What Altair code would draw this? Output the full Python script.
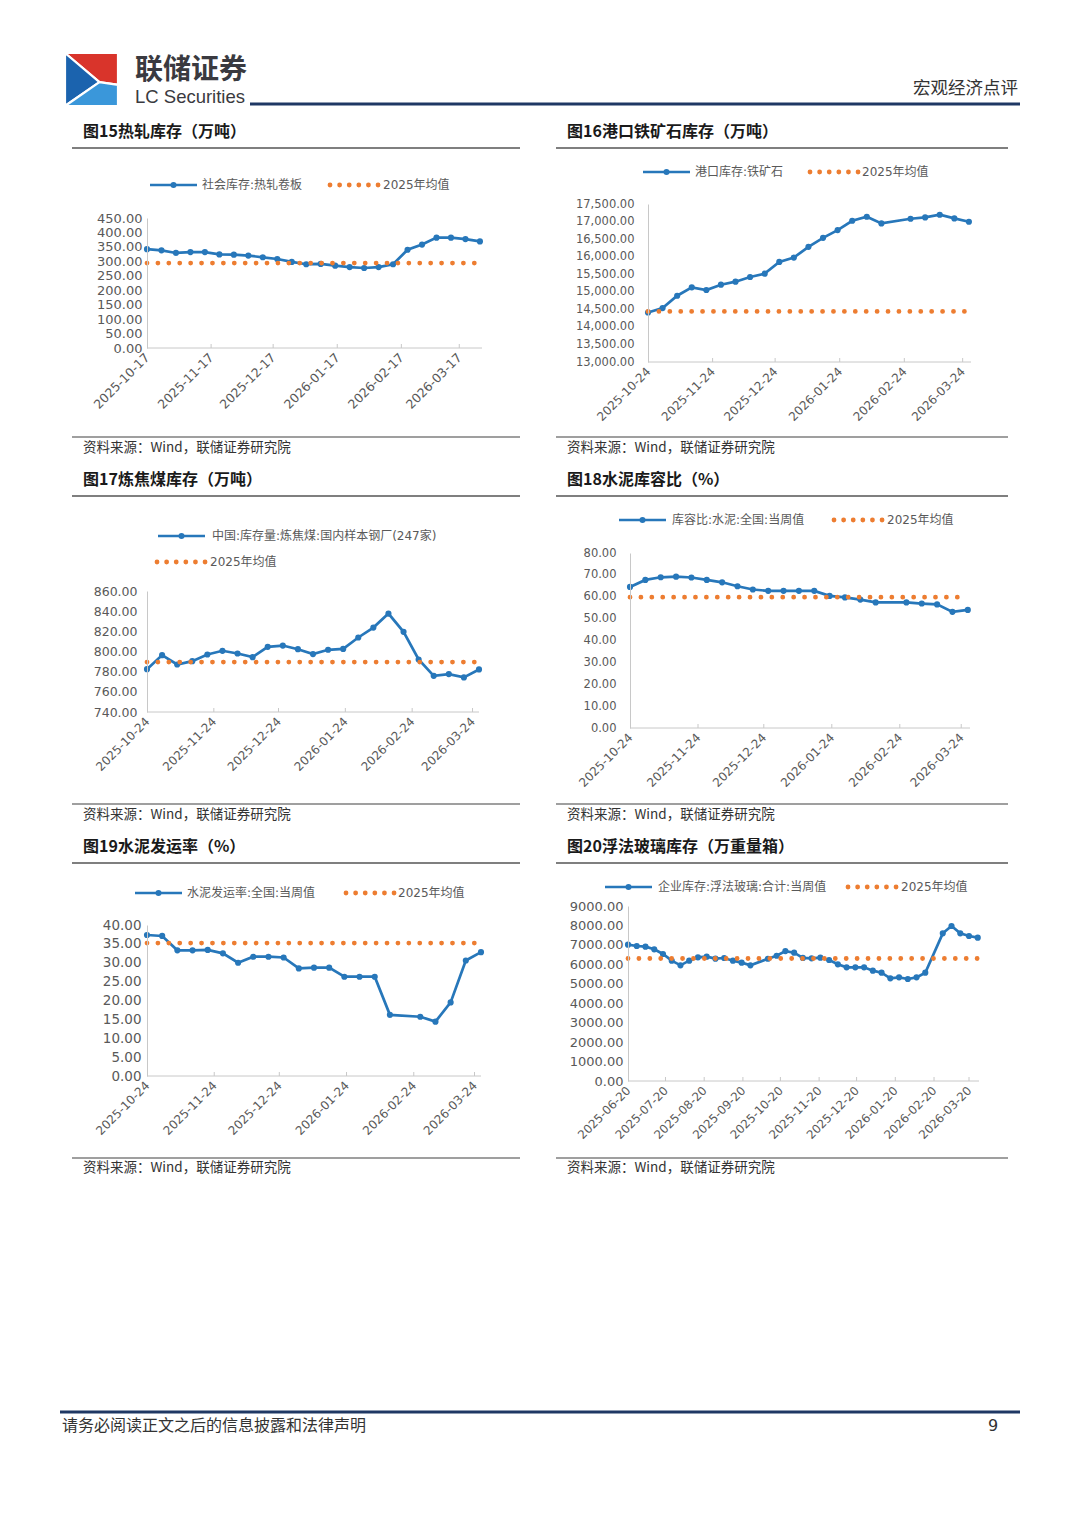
import altair as alt
import pandas as pd

# ---------------- data ----------------
p15_dates = ["2025-10-17", "2025-10-24", "2025-10-31", "2025-11-07", "2025-11-14", "2025-11-21",
             "2025-11-28", "2025-12-05", "2025-12-12", "2025-12-19", "2025-12-26", "2026-01-02",
             "2026-01-09", "2026-01-16", "2026-01-23", "2026-01-30", "2026-02-06", "2026-02-13",
             "2026-02-20", "2026-02-27", "2026-03-06", "2026-03-13", "2026-03-20", "2026-03-27"]
p15_vals = [342, 338, 329, 332, 332, 324, 323, 320, 314, 308, 298, 290,
            291, 285, 280, 277, 280, 290, 340, 358, 382, 382, 377, 369]
p15_avg = 294
p15_xticks = ["2025-10-17", "2025-11-17", "2025-12-17", "2026-01-17", "2026-02-17", "2026-03-17"]
p15_yticks = [0, 50, 100, 150, 200, 250, 300, 350, 400, 450]

gap_dates = ["2025-10-24", "2025-10-31", "2025-11-07", "2025-11-14", "2025-11-21", "2025-11-28",
             "2025-12-05", "2025-12-12", "2025-12-19", "2025-12-26", "2026-01-02", "2026-01-09",
             "2026-01-16", "2026-01-23", "2026-01-30", "2026-02-06", "2026-02-13", "2026-02-27",
             "2026-03-06", "2026-03-13", "2026-03-20", "2026-03-27"]
full_dates = ["2025-10-24", "2025-10-31", "2025-11-07", "2025-11-14", "2025-11-21", "2025-11-28",
              "2025-12-05", "2025-12-12", "2025-12-19", "2025-12-26", "2026-01-02", "2026-01-09",
              "2026-01-16", "2026-01-23", "2026-01-30", "2026-02-06", "2026-02-13", "2026-02-20",
              "2026-02-27", "2026-03-06", "2026-03-13", "2026-03-20", "2026-03-27"]
ticks24 = ["2025-10-24", "2025-11-24", "2025-12-24", "2026-01-24", "2026-02-24", "2026-03-24"]

p16_vals = [14411, 14535, 14888, 15126, 15050, 15202, 15288, 15422, 15517, 15851, 15975,
            16280, 16537, 16756, 17023, 17138, 16947, 17080, 17119, 17195, 17090, 16995]
p16_avg = 14440
p16_yticks = [13000, 13500, 14000, 14500, 15000, 15500, 16000, 16500, 17000, 17500]

p17_vals = [782.5, 796.4, 787.1, 790.4, 797.0, 800.7, 798.0, 794.4, 804.6, 805.9, 802.3, 797.4,
            801.7, 802.6, 813.9, 823.7, 837.6, 819.5, 792.1, 775.9, 777.6, 774.3, 782.2]
p17_avg = 789.5
p17_yticks = [740, 760, 780, 800, 820, 840, 860]

p18_vals = [64.5, 67.7, 68.9, 69.2, 68.8, 67.7, 66.6, 64.8, 63.3, 62.7, 62.7,
            62.7, 62.7, 60.4, 59.7, 58.7, 57.4, 57.4, 56.9, 56.5, 53.1, 54.0]
p18_avg = 59.8
p18_yticks = [0, 10, 20, 30, 40, 50, 60, 70, 80]

p19_vals = [37.35, 37.1, 33.3, 33.3, 33.4, 32.5, 30.0, 31.6, 31.6, 31.4, 28.5,
            28.7, 28.7, 26.3, 26.3, 26.3, 16.2, 15.7, 14.4, 19.5, 30.6, 32.8]
p19_avg = 35.2
p19_yticks = [0, 5, 10, 15, 20, 25, 30, 35, 40]

p20_dates = ["2025-06-20", "2025-06-27", "2025-07-04", "2025-07-11", "2025-07-18", "2025-07-25",
             "2025-08-01", "2025-08-08", "2025-08-15", "2025-08-22", "2025-08-29", "2025-09-05",
             "2025-09-12", "2025-09-19", "2025-09-26", "2025-10-10", "2025-10-17", "2025-10-24",
             "2025-10-31", "2025-11-07", "2025-11-14", "2025-11-21", "2025-11-28", "2025-12-05",
             "2025-12-12", "2025-12-19", "2025-12-26", "2026-01-02", "2026-01-09", "2026-01-16",
             "2026-01-23", "2026-01-30", "2026-02-06", "2026-02-13", "2026-02-27", "2026-03-06",
             "2026-03-13", "2026-03-20", "2026-03-27"]
p20_vals = [7010, 6943, 6909, 6772, 6531, 6188, 5948, 6188, 6360, 6394, 6291, 6326, 6188,
            6086, 5948, 6286, 6440, 6680, 6600, 6330, 6308, 6343, 6223, 6000, 5846, 5846,
            5846, 5674, 5571, 5280, 5331, 5246, 5331, 5571, 7594, 7971, 7594, 7457, 7371]
p20_avg = 6300
p20_xticks = ["2025-06-20", "2025-07-20", "2025-08-20", "2025-09-20", "2025-10-20",
              "2025-11-20", "2025-12-20", "2026-01-20", "2026-02-20", "2026-03-20"]
p20_yticks = [0, 1000, 2000, 3000, 4000, 5000, 6000, 7000, 8000, 9000]

avg_label = "2025年均值"
source_label = "资料来源：Wind，联储证券研究院"

# ---------------- style ----------------
BLUE = "#2777BA"
ORANGE = "#ED7D31"
LBL = "#595959"
AXIS_GRAY = "#C8C8C8"
NAVY = "#1F3864"
LINE_GRAY = "#7F7F7F"
NUMFONT = "DejaVu Sans"
CJK = "Noto Sans CJK SC"
MIX = "DejaVu Sans, Noto Sans CJK SC"


def ms(d):
    return int(pd.Timestamp(d).value // 10**6)


def one():
    return pd.DataFrame({"k": [0]})


def txt(s, x, y, size, color="#333333", weight="normal", align="left", font=CJK):
    return alt.Chart(pd.DataFrame({"t": [s]})).mark_text(
        align=align, baseline="middle", fontSize=size, font=font,
        fontWeight=weight, color=color
    ).encode(x=alt.value(x), y=alt.value(y), text="t:N")


def box(x0, x1, y0, y1, color):
    return alt.Chart(one()).mark_rect(color=color, opacity=1).encode(
        x=alt.value(x0), x2=alt.value(x1), y=alt.value(y0), y2=alt.value(y1))


def dots(x0, x1, y, gap=9.6):
    return alt.Chart(one()).mark_rule(
        color=ORANGE, strokeWidth=4.8, strokeDash=[0.01, gap], strokeCap="round"
    ).encode(x=alt.value(x0), x2=alt.value(x1 + 1.5), y=alt.value(y))


def line_key(x0, x1, y):
    r = alt.Chart(one()).mark_rule(color=BLUE, strokeWidth=2.6).encode(
        x=alt.value(x0), x2=alt.value(x1), y=alt.value(y))
    p = alt.Chart(one()).mark_circle(color=BLUE, size=36, opacity=1).encode(
        x=alt.value((x0 + x1) / 2), y=alt.value(y))
    return [r, p]


def panel(p):
    w, h, shift = p["w"], p["h"], p["shift"]
    d0, d1 = ms(p["x0"]), ms(p["x1"])
    per_px = (d1 - d0) / (w - shift)
    dom = [d0 - shift * per_px, d1]
    xscale = alt.Scale(type="utc", domain=dom, nice=False)
    xaxis = alt.Axis(values=[ms(t) for t in p["xticks"]], format="%Y-%m-%d", labelAngle=-45,
                     labelAlign="right", labelBaseline="middle", labelPadding=p["xpad"],
                     ticks=False, domain=False, grid=False, labelFont=NUMFONT,
                     labelFontSize=p["xfs"], labelColor=LBL, labelOverlap=False,
                     labelFlush=False, labelBound=False, title=None, zindex=1)
    yscale = alt.Scale(domain=p["ydom"], nice=False, zero=False)
    yaxis = alt.Axis(values=p["yticks"], format=p["yfmt"], ticks=False, grid=False,
                     domainColor=AXIS_GRAY, domainWidth=1, labelFont=NUMFONT,
                     labelFontSize=p["yfs"], labelColor=LBL, labelPadding=p["ypad"],
                     offset=-shift, title=None, zindex=1, labelFlush=False)
    X = alt.X("date:T", scale=xscale, axis=xaxis)

    def Y(f):
        return alt.Y(f + ":Q", scale=yscale, axis=yaxis)

    df = pd.DataFrame({"date": p["dates"], "v": p["vals"], "avg": [p["avg"]] * len(p["dates"])})
    df_ax = pd.DataFrame({"date": [p["x0"]], "date2": [p["x1"]]})
    df_tk = pd.DataFrame({"date": p["xticks"][1:]})

    bx0, bx1, by0, by1 = p["rect"]
    layers = [box(bx0, bx1, by0, by1, "white")]
    ux0, ux1 = p["ux"]
    layers.append(txt(p["title"], p["tx"], p["ty"], 16, "#1A1A1A", "bold"))
    layers.append(box(ux0, ux1, p["uy"] - 1, p["uy"] + 1, LINE_GRAY))
    layers.append(box(ux0, ux1, p["by"] - 0.8, p["by"] + 0.8, LINE_GRAY))
    layers.append(txt(source_label, p["tx"], p["sy"], 13.5, "#333333"))
    lx0, lx1, ly = p["leg_line"]
    layers += line_key(lx0, lx1, ly)
    layers.append(txt(p["leg_text"], p["leg_tx"], ly, 12, LBL, font=MIX))
    dx0, dx1, dy = p["leg_dots"]
    layers.append(dots(dx0, dx1, dy))
    layers.append(txt(avg_label, p["leg_dtx"], dy, 12, LBL, font=MIX))
    layers.append(alt.Chart(df_ax).mark_rule(color=AXIS_GRAY, strokeWidth=1).encode(
        x=X, x2="date2:T", y=alt.value(h)))
    layers.append(alt.Chart(df_tk).mark_rule(color=AXIS_GRAY, strokeWidth=1).encode(
        x=X, y=alt.value(h - 4), y2=alt.value(h)))
    layers.append(alt.Chart(df).mark_line(color=BLUE, strokeWidth=2.7).encode(x=X, y=Y("v")))
    layers.append(alt.Chart(df).mark_circle(color=BLUE, size=38, opacity=1).encode(x=X, y=Y("v")))
    layers.append(alt.Chart(df).mark_line(color=ORANGE, strokeWidth=4.8, strokeDash=[0.01, 10.9],
                                          strokeCap="round").encode(x=X, y=Y("avg")))
    return alt.layer(*layers).properties(width=w, height=h)


# ---------------- panels ----------------
p15 = panel(dict(
    dates=p15_dates, vals=p15_vals, avg=p15_avg, w=335, h=130, shift=0,
    x0="2025-10-17", x1="2026-03-28", xticks=p15_xticks, xfs=12.5, xpad=7,
    ydom=[0, 450], yticks=p15_yticks, yfmt=".2f", yfs=13, ypad=5,
    rect=(-139, 393, -98, 244), title="图15热轧库存（万吨）", tx=-64, ty=-86,
    ux=(-75, 373), uy=-70, by=219, sy=230,
    leg_line=(3, 50, -33), leg_text="社会库存:热轧卷板", leg_tx=55,
    leg_dots=(183, 231, -33), leg_dtx=236))

p17 = panel(dict(
    dates=full_dates, vals=p17_vals, avg=p17_avg, w=332, h=121, shift=0,
    x0="2025-10-24", x1="2026-03-27", xticks=ticks24, xfs=12, xpad=7,
    ydom=[740, 860], yticks=p17_yticks, yfmt=".2f", yfs=12.5, ypad=10,
    rect=(-139, 393, -129, 239), title="图17炼焦煤库存（万吨）", tx=-64, ty=-111,
    ux=(-75, 373), uy=-95, by=213, sy=224,
    leg_line=(11, 58, -55), leg_text="中国:库存量:炼焦煤:国内样本钢厂(247家)", leg_tx=65,
    leg_dots=(10, 58, -29), leg_dtx=63))

p19 = panel(dict(
    dates=gap_dates, vals=p19_vals, avg=p19_avg, w=334, h=151, shift=0,
    x0="2025-10-24", x1="2026-03-27", xticks=ticks24, xfs=12, xpad=7,
    ydom=[0, 40], yticks=p19_yticks, yfmt=".2f", yfs=13.5, ypad=6,
    rect=(-139, 393, -95, 265), title="图19水泥发运率（%）", tx=-64, ty=-78,
    ux=(-75, 373), uy=-62, by=233, sy=243,
    leg_line=(-12, 35, -32), leg_text="水泥发运率:全国:当周值", leg_tx=40,
    leg_dots=(199, 248, -32), leg_dtx=251))

p16 = panel(dict(
    dates=gap_dates, vals=p16_vals, avg=p16_avg, w=343, h=158, shift=20,
    x0="2025-10-24", x1="2026-03-28", xticks=ticks24, xfs=12, xpad=7,
    ydom=[13000, 17500], yticks=p16_yticks, yfmt=",.2f", yfs=11.5, ypad=14,
    rect=(-88, 444, -84, 258), title="图16港口铁矿石库存（万吨）", tx=-61, ty=-72,
    ux=(-72, 380), uy=-56, by=233, sy=244,
    leg_line=(15, 62, -32), leg_text="港口库存:铁矿石", leg_tx=67,
    leg_dots=(182, 230, -32), leg_dtx=234))

p18 = panel(dict(
    dates=gap_dates, vals=p18_vals, avg=p18_avg, w=342, h=175, shift=2,
    x0="2025-10-24", x1="2026-03-28", xticks=ticks24, xfs=12, xpad=7,
    ydom=[0, 80], yticks=p18_yticks, yfmt=".2f", yfs=11.5, ypad=14,
    rect=(-88, 444, -91, 277), title="图18水泥库容比（%）", tx=-61, ty=-73,
    ux=(-72, 380), uy=-57, by=251, sy=262,
    leg_line=(-9, 38, -33), leg_text="库容比:水泥:全国:当周值", leg_tx=44,
    leg_dots=(206, 255, -33), leg_dtx=259))

p20 = panel(dict(
    dates=p20_dates, vals=p20_vals, avg=p20_avg, w=351, h=175, shift=0,
    x0="2025-06-20", x1="2026-03-28", xticks=p20_xticks, xfs=11.8, xpad=7,
    ydom=[0, 9000], yticks=p20_yticks, yfmt=".2f", yfs=13, ypad=5,
    rect=(-88, 444, -76, 284), title="图20浮法玻璃库存（万重量箱）", tx=-61, ty=-59,
    ux=(-72, 380), uy=-43, by=252, sy=262,
    leg_line=(-23, 24, -19), leg_text="企业库存:浮法玻璃:合计:当周值", leg_tx=30,
    leg_dots=(220, 269, -19), leg_dtx=273))

# ---------------- header / footer ----------------
logo_df = one()
logo_parts = [
    ("M-1,-1L1,-1L1,0.2L0.3,0.1Z", "#D9342B"),
    ("M-1,-1L0.3,0.1L-1,1Z", "#1B63AE"),
    ("M-1,1L0.3,0.1L1,0.2L1,1Z", "#3A97DA"),
]
logo_layers = [
    alt.Chart(logo_df).mark_point(shape=path, filled=True, fill=col, stroke="white",
                                  strokeWidth=2.2, size=2809, opacity=1).encode(
        x=alt.value(-55.5), y=alt.value(71.5))
    for path, col in logo_parts
]

hdrL = alt.layer(
    box(-139, 393, 0, 112, "white"),
    *logo_layers,
    txt("联储证券", -12, 63, 28, "#3A3A40", "bold"),
    txt("LC Securities", -12, 89, 18.5, "#3A3A40", font="Liberation Sans"),
    box(103, 393, 94.5, 97.5, NAVY),
).properties(width=393, height=112)

hdrR = alt.layer(
    box(-88, 444, 0, 112, "white"),
    box(-88, 392, 94.5, 97.5, NAVY),
    txt("宏观经济点评", 390, 81, 17.5, "#333333", align="right"),
).properties(width=444, height=112)

ftrL = alt.layer(
    box(-139, 393, 0, 329, "white"),
    box(-87, 393, 220.5, 223.5, NAVY),
    txt("请务必阅读正文之后的信息披露和法律声明", -85, 236, 16, "#333333"),
).properties(width=393, height=329)

ftrR = alt.layer(
    box(-88, 444, 0, 329, "white"),
    box(-88, 392, 220.5, 223.5, NAVY),
    txt("9", 365, 236, 16, "#333333", align="center", font=NUMFONT),
).properties(width=444, height=329)

left_col = alt.vconcat(hdrL, p15, p17, p19, ftrL, spacing=0)
right_col = alt.vconcat(hdrR, p16, p18, p20, ftrR, spacing=0)

chart = alt.hconcat(left_col, right_col, spacing=0).properties(
    padding=0, background="white"
).configure_view(stroke=None)

chart.save("out.html", embed_options={"renderer": "svg", "actions": False})
